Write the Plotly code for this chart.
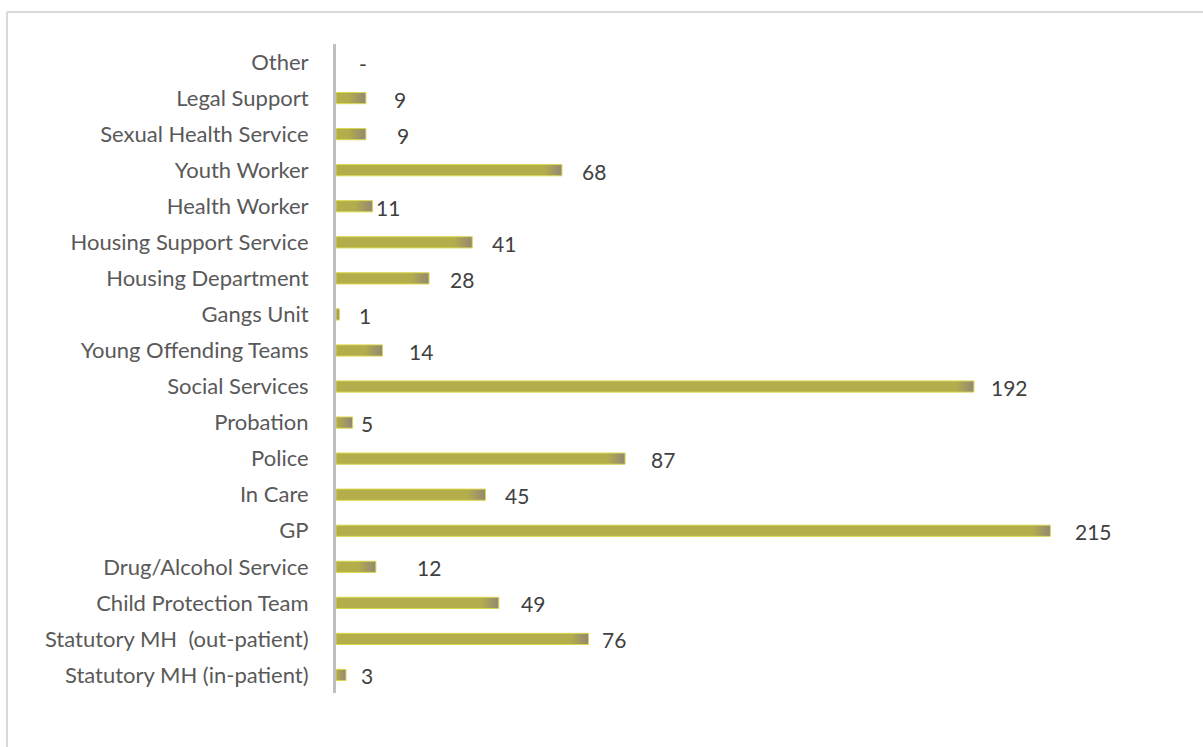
import plotly.graph_objects as go

# Referral sources, listed bottom to top
categories = [
    "Statutory MH (in-patient)",
    "Statutory MH  (out-patient)",
    "Child Protection Team",
    "Drug/Alcohol Service",
    "GP",
    "In Care",
    "Police",
    "Probation",
    "Social Services",
    "Young Offending Teams",
    "Gangs Unit",
    "Housing Department",
    "Housing Support Service",
    "Health Worker",
    "Youth Worker",
    "Sexual Health Service",
    "Legal Support",
    "Other",
]
counts = [3, 76, 49, 12, 215, 45, 87, 5, 192, 14, 1, 28, 41, 11, 68, 9, 9, 0]

# horizontal nudge (px) of each value label from the end of its bar
label_gap = [13, 11, 20, 39, 23, 17, 24, 6, 15, 24, 18, 19, 18, 1, 18, 29, 26, 21]

OLIVE = "#b3ad4c"
TAUPE = "#938774"
EDGE = "#d8d64a"

FIG_W, FIG_H = 1203, 747
M_L, M_R, M_T, M_B = 336, 53, 44, 54
X_MAX = 245.0
PX_PER_UNIT = (FIG_W - M_L - M_R) / X_MAX
FADE_PX = 18          # width of the darker tail at the end of every bar
HALF = 0.155          # half bar thickness in category units

fig = go.Figure()

for i, (cat, v) in enumerate(zip(categories, counts)):
    if v <= 0:
        continue
    bar_px = v * PX_PER_UNIT
    stop = max(0.0, 1.0 - FADE_PX / bar_px)
    fig.add_trace(go.Scatter(
        x=[0, v, v, 0, 0],
        y=[i - HALF, i - HALF, i + HALF, i + HALF, i - HALF],
        mode="lines",
        fill="toself",
        line=dict(color=EDGE, width=1),
        fillgradient=dict(
            type="horizontal",
            colorscale=[[0, OLIVE], [stop, OLIVE], [1, TAUPE]],
        ),
        hoverinfo="text",
        text=f"{cat}: {v}",
        showlegend=False,
    ))

for i, (v, gap) in enumerate(zip(counts, label_gap)):
    fig.add_annotation(
        x=v, y=i, xref="x", yref="y",
        text=str(v) if v > 0 else "-",
        showarrow=False, xanchor="left", yanchor="middle",
        xshift=gap, yshift=-1,
        font=dict(family="Lato", size=21, color="#404040"),
    )

# light frame along the top and left edges of the chart area
fig.add_shape(type="line", xref="paper", yref="paper",
              x0=(7 - M_L) / (FIG_W - M_L - M_R), x1=(FIG_W - M_L) / (FIG_W - M_L - M_R),
              y0=(FIG_H - M_B - 12) / (FIG_H - M_T - M_B), y1=(FIG_H - M_B - 12) / (FIG_H - M_T - M_B),
              line=dict(color="#d9d9d9", width=2))
fig.add_shape(type="line", xref="paper", yref="paper",
              x0=(7 - M_L) / (FIG_W - M_L - M_R), x1=(7 - M_L) / (FIG_W - M_L - M_R),
              y0=(FIG_H - M_B - 12) / (FIG_H - M_T - M_B), y1=-M_B / (FIG_H - M_T - M_B) - 0.01,
              line=dict(color="#d9d9d9", width=2))

fig.update_layout(
    width=FIG_W, height=FIG_H,
    margin=dict(l=M_L, r=M_R, t=M_T, b=M_B),
    paper_bgcolor="white", plot_bgcolor="white",
    font=dict(family="Lato", size=22, color="#595959"),
    xaxis=dict(range=[0, X_MAX], visible=False, fixedrange=True),
    yaxis=dict(
        range=[-0.5, len(categories) - 0.5],
        tickmode="array",
        tickvals=list(range(len(categories))),
        ticktext=categories,
        showgrid=False, zeroline=False,
        showline=True, linecolor="#bfbfbf", linewidth=3,
        ticks="outside", ticklen=20, tickcolor="rgba(0,0,0,0)",
        tickfont=dict(family="Lato", size=22, color="#595959"),
        fixedrange=True,
    ),
)

fig.write_html("out.html")
